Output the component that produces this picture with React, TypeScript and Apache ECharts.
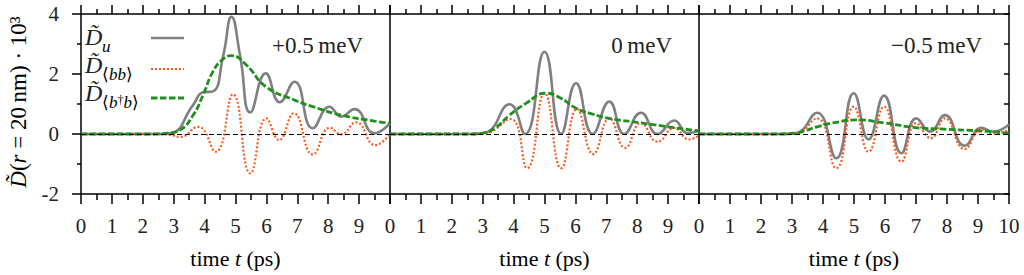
import React, { useEffect, useRef } from 'react';
import * as echarts from 'echarts';

type P = [number, number][];

// Panel +0.5 meV
const duPlus: P = [[0, 0], [2.5, 0], [2.9, 0.02], [3.63, 0.97], [3.95, 1.39], [4.27, 1.42], [4.6, 2.6], [4.87, 3.91], [5.15, 2.6], [5.48, 0.72], [5.98, 2.02], [6.43, 1.06], [6.91, 1.74], [7.5, 0.19], [8.04, 0.91], [8.42, 0.58], [8.85, 0.83], [9.5, 0.02], [10, 0.36]];
const bbPlus: P = [[0, 0], [2.4, 0], [2.9, -0.03], [3.2, -0.1], [3.79, 0.24], [4.36, -0.59], [4.92, 1.32], [5.48, -1.31], [6.0, 0.52], [6.41, -0.2], [6.89, 0.69], [7.5, -0.68], [8.06, 0.21], [8.42, -0.01], [8.9, 0.39], [9.53, -0.37], [10, 0.0]];
const bdPlus: P = [[0, 0], [2.4, 0], [2.8, 0.03], [3.2, 0.13], [3.63, 0.63], [3.95, 1.3], [4.27, 2.08], [4.6, 2.5], [4.87, 2.61], [5.35, 2.3], [5.98, 1.58], [6.91, 1.13], [7.5, 0.91], [8.42, 0.63], [9.5, 0.43], [10, 0.36]];

// Panel 0 meV
const duZero: P = [[0, 0], [2.6, 0], [3.1, 0.05], [3.87, 0.99], [4.37, 0], [5.0, 2.74], [5.54, 0], [6.02, 1.69], [6.56, 0], [7.1, 1.08], [7.58, 0], [8.12, 0.71], [8.66, 0], [9.2, 0.45], [9.63, 0.03], [10, 0.1]];
const bbZero: P = [[0, 0], [2.6, 0], [3.1, 0.03], [3.9, 0.5], [4.44, -1.14], [5.0, 1.36], [5.54, -1.14], [6.05, 0.83], [6.58, -0.67], [7.1, 0.52], [7.61, -0.46], [8.12, 0.37], [8.66, -0.26], [9.2, 0.2], [9.68, -0.18], [10, -0.05]];
const bdZero: P = [[0, 0], [2.6, 0], [3.0, 0.03], [3.4, 0.2], [3.87, 0.63], [4.4, 1.02], [5.05, 1.36], [5.5, 1.21], [6.02, 0.86], [6.5, 0.68], [7.1, 0.52], [8.12, 0.37], [9.2, 0.21], [10, 0.1]];

// Panel -0.5 meV
const duMinus: P = [[0, 0], [2.6, 0], [3.13, 0.03], [3.81, 0.71], [4.43, -0.81], [4.99, 1.36], [5.47, -0.18], [5.97, 1.28], [6.53, -0.64], [7.01, 0.52], [7.46, 0.08], [7.93, 0.63], [8.57, -0.39], [9.11, 0.21], [9.49, 0.08], [10, 0.32]];
const bbMinus: P = [[0, 0], [2.6, 0], [3.13, 0.02], [3.81, 0.52], [4.43, -1.14], [4.99, 0.91], [5.47, -0.59], [5.97, 0.91], [6.53, -0.92], [7.01, 0.36], [7.48, -0.14], [7.93, 0.52], [8.57, -0.5], [9.11, 0.16], [9.49, 0.02], [10, 0.12]];
const bdMinus: P = [[0, 0], [2.6, 0], [3.0, 0.02], [3.4, 0.1], [3.81, 0.24], [4.43, 0.39], [5.07, 0.47], [5.97, 0.37], [7.01, 0.21], [7.93, 0.16], [9.11, 0.1], [10, 0.03]];

const panelLabels = ['+0.5\u2009meV', '0\u2009meV', '\u22120.5\u2009meV'];
const xAxisTitle = '{n|time }{i|t}{n| (ps)}';
const yAxisTitle = '{i|D\u0303}{n|(}{i|r}{n| = 20\u2009nm) · 10³}';

const panels = [
  { du: duPlus, bb: bbPlus, bd: bdPlus },
  { du: duZero, bb: bbZero, bd: bdZero },
  { du: duMinus, bb: bbMinus, bd: bdMinus },
];

const FONT = 'Liberation Serif';
const GRAY = '#808080';
const ORANGE = '#ff5a1e';
const GREEN = '#1f8f1f';
const GL = [81, 390, 699];
const GW = [309, 309, 310];
const TOP = 14;
const H = 180;

function buildOption(): echarts.EChartsOption {
  const axisLineStyle = { color: '#000', width: 1.5 };
  const grid = GL.map((l, i) => ({ left: l, top: TOP, width: GW[i], height: H }));
  const xAxis: any[] = [];
  const yAxis: any[] = [];
  for (let i = 0; i < 3; i++) {
    xAxis.push({
      type: 'value', gridIndex: i, min: 0, max: 10, interval: 1, position: 'bottom',
      axisLine: { show: true, onZero: false, lineStyle: axisLineStyle },
      axisTick: { show: true, inside: false, length: 10, lineStyle: axisLineStyle },
      minorTick: { show: true, splitNumber: 2, length: 6, lineStyle: axisLineStyle },
      splitLine: { show: false }, minorSplitLine: { show: false },
      axisLabel: {
        show: true, margin: 21, fontSize: 21, fontFamily: FONT, color: '#222',
        formatter: (v: number) => (i < 2 && v === 10 ? '' : String(v)),
      },
    });
  }
  for (let i = 0; i < 3; i++) {
    xAxis.push({
      type: 'value', gridIndex: i, min: 0, max: 10, interval: 1, position: 'top',
      axisLine: { show: true, onZero: false, lineStyle: axisLineStyle },
      axisTick: { show: true, inside: false, length: 9, lineStyle: axisLineStyle },
      minorTick: { show: true, splitNumber: 2, length: 5, lineStyle: axisLineStyle },
      splitLine: { show: false }, minorSplitLine: { show: false },
      axisLabel: { show: false },
    });
  }
  for (let i = 0; i < 3; i++) {
    yAxis.push({
      type: 'value', gridIndex: i, min: -2, max: 4, interval: 2, position: 'left',
      axisLine: { show: true, onZero: false, lineStyle: axisLineStyle },
      axisTick: { show: i === 0, inside: false, length: 9, lineStyle: axisLineStyle },
      minorTick: { show: i === 0, splitNumber: 2, length: 4, lineStyle: axisLineStyle },
      splitLine: { show: false }, minorSplitLine: { show: false },
      axisLabel: { show: i === 0, margin: 22, fontSize: 21, fontFamily: FONT, color: '#222' },
    });
  }
  yAxis.push({
    type: 'value', gridIndex: 2, min: -2, max: 4, interval: 1, position: 'right',
    axisLine: { show: true, onZero: false, lineStyle: axisLineStyle },
    axisTick: { show: true, inside: true, length: 5, lineStyle: axisLineStyle },
    splitLine: { show: false },
    axisLabel: { show: false },
  });

  const series: any[] = [];
  panels.forEach((p, i) => {
    series.push({
      type: 'line', xAxisIndex: i, yAxisIndex: i, data: p.du, smooth: 0.5, showSymbol: false, silent: true,
      lineStyle: { color: GRAY, width: 2.6 }, z: 2,
      markLine: {
        silent: true, symbol: 'none', label: { show: false },
        lineStyle: { color: '#000', width: 1, type: [5, 3] },
        data: [{ yAxis: 0 }],
      },
    });
    series.push({
      type: 'line', xAxisIndex: i, yAxisIndex: i, data: p.bb, smooth: 0.5, showSymbol: false, silent: true,
      lineStyle: { color: ORANGE, width: 2.2, type: [2, 2] }, z: 3,
    });
    series.push({
      type: 'line', xAxisIndex: i, yAxisIndex: i, data: p.bd, smooth: 0.5, showSymbol: false, silent: true,
      lineStyle: { color: GREEN, width: 2.8, type: [6.5, 2.5] }, z: 4,
    });
  });

  const rich = {
    n: { fontFamily: FONT, fontSize: 22, color: '#222' },
    i: { fontFamily: FONT, fontSize: 22, fontStyle: 'italic', color: '#222' },
  };
  const yRich = {
    n: { fontFamily: FONT, fontSize: 23, color: '#222' },
    i: { fontFamily: FONT, fontSize: 23, fontStyle: 'italic', color: '#222' },
  };
  const subRich = {
    n: { fontFamily: FONT, fontSize: 17, color: '#222' },
    i: { fontFamily: FONT, fontSize: 17, fontStyle: 'italic', color: '#222' },
    s: { fontFamily: FONT, fontSize: 12, color: '#222', verticalAlign: 'top' },
  };

  const graphic: any[] = [];
  const centers = GL.map((l, i) => l + GW[i] / 2);
  centers.forEach((cx) => {
    graphic.push({
      type: 'text', x: cx, y: 258,
      style: { text: xAxisTitle, rich, align: 'center', verticalAlign: 'middle', fontFamily: FONT, fontSize: 22 },
    });
  });
  panelLabels.forEach((t, i) => {
    graphic.push({
      type: 'text', x: GL[i] + GW[i] - 27, y: 45,
      style: { text: t, align: 'right', verticalAlign: 'middle', fontFamily: FONT, fontSize: 23, fill: '#222' },
    });
  });
  graphic.push({
    type: 'text', x: 18, y: 102, rotation: Math.PI / 2,
    style: { text: yAxisTitle, rich: yRich, align: 'center', verticalAlign: 'middle', fontFamily: FONT, fontSize: 23 },
  });

  // legend
  const legendRows = [
    { y: 37, sub: '{i|u}', subY: 46, color: GRAY, dash: undefined as any, width: 2.6, ly: 38 },
    { y: 65, sub: '{n|⟨}{i|bb}{n|⟩}', subY: 74, color: ORANGE, dash: [2, 2], width: 2.2, ly: 69 },
    { y: 93, sub: '{n|⟨}{i|b}{s|†}{i|b}{n|⟩}', subY: 102, color: GREEN, dash: [6.5, 2.5], width: 2.8, ly: 98 },
  ];
  legendRows.forEach((r) => {
    graphic.push({
      type: 'text', x: 85, y: r.y,
      style: { text: 'D\u0303', align: 'left', verticalAlign: 'middle', fontFamily: FONT, fontSize: 24, fontStyle: 'italic', fill: '#222' },
    });
    graphic.push({
      type: 'text', x: 102, y: r.subY,
      style: { text: r.sub, rich: subRich, align: 'left', verticalAlign: 'middle', fontFamily: FONT, fontSize: 17 },
    });
    graphic.push({
      type: 'line', shape: { x1: 151, y1: r.ly, x2: 184, y2: r.ly },
      style: { stroke: r.color, lineWidth: r.width, lineDash: r.dash },
    });
  });

  return {
    animation: false,
    backgroundColor: '#fff',
    textStyle: { fontFamily: FONT },
    grid, xAxis, yAxis, series, graphic,
  } as any;
}

export default function App() {
  const ref = useRef<HTMLDivElement>(null);
  useEffect(() => {
    if (!ref.current) return;
    const chart = echarts.init(ref.current, undefined, { renderer: 'svg' });
    chart.setOption(buildOption());
    return () => chart.dispose();
  }, []);
  return <div ref={ref} style={{ width: 1024, height: 275, position: 'absolute', left: 0, top: 0 }} />;
}
